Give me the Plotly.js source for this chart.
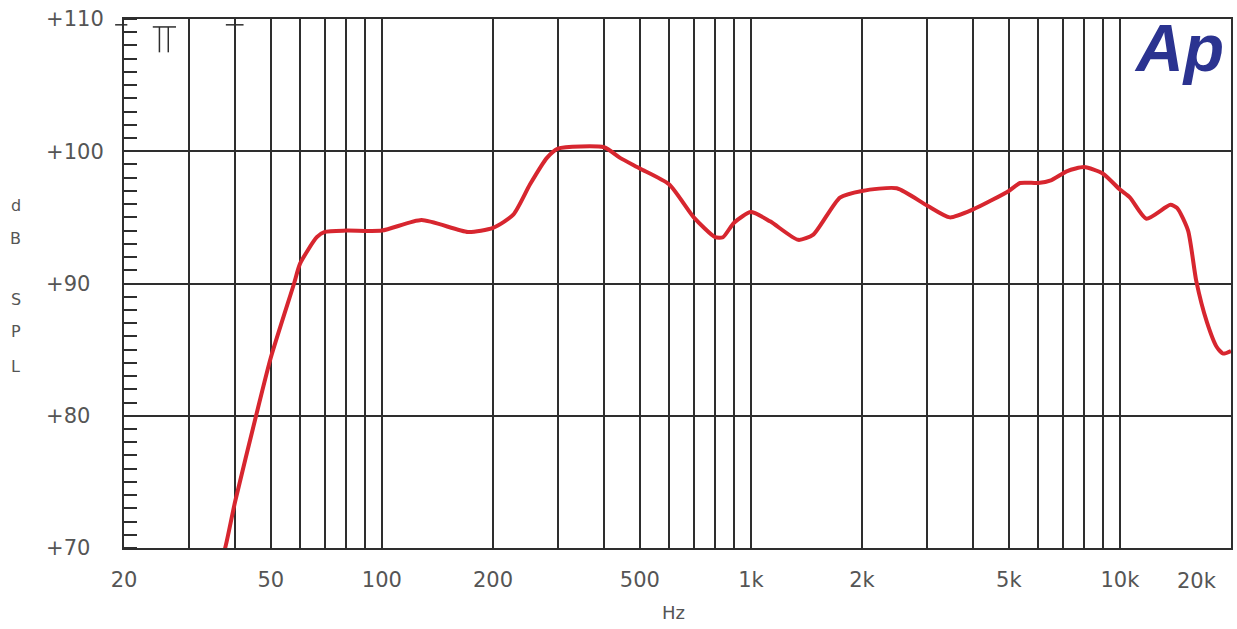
<!DOCTYPE html>
<html>
<head>
<meta charset="utf-8">
<script src="https://cdn.plot.ly/plotly-3.0.1.min.js"></script>
<style>
  body { margin: 0; background: #fff; }
  #plot { width: 1237px; height: 629px; }
</style>
</head>
<body>
<div id="plot"></div>
<script>
// frequency response
var freq = [36, 37.6, 40, 45.6, 50, 57.8, 60, 66.6, 70, 80, 100, 128, 171, 200, 227, 252, 280, 300,
    400, 442, 500, 600, 700, 800, 840, 900, 1000, 1127, 1344, 1476, 1743, 2000, 2484, 3000, 3459,
    4000, 5000, 5361, 6000, 6500, 7200, 8000, 9000, 10000, 10650, 11800, 13700, 14300, 15300,
    16100, 17200, 18300, 19050, 20000];
var spl = [68.5, 70, 73.5, 80, 84.4, 90, 91.5, 93.5, 93.9, 94.0, 94.0, 94.8, 93.9, 94.2, 95.2, 97.5, 99.5, 100.2,
    100.3, 99.5, 98.7, 97.5, 95.0, 93.5, 93.5, 94.6, 95.4, 94.7, 93.3, 93.7, 96.5, 97.0, 97.2, 95.9, 95.0,
    95.6, 97.0, 97.6, 97.6, 97.8, 98.5, 98.8, 98.3, 97.1, 96.5, 94.9, 95.95, 95.7, 94.0,
    90.2, 87.1, 85.2, 84.7, 84.9];

// x grid lines and labels
var xTicks = [20, 30, 40, 50, 60, 70, 80, 90, 100, 200, 300, 400, 500, 600, 700, 800, 900,
    1000, 2000, 3000, 4000, 5000, 6000, 7000, 8000, 9000, 10000, 20000];
var xLabels = ['20', '', '', '50', '', '', '', '', '100', '200', '', '', '500', '', '', '', '',
    '1k', '2k', '', '', '5k', '', '', '', '', '10k', ''];

var yTicks = [70, 80, 90, 100, 110];
var yLabels = ['+70\u2007', '+80\u2007', '+90\u2007', '+100', '+110'];

var splLetters = ['d', 'B', 'S', 'P', 'L'];
var splLetterY = [95.9, 93.4, 88.8, 86.4, 83.7];

var gridCol = '#2e2e2e';
var textCol = '#555555';

var data = [{
    x: freq,
    y: spl,
    type: 'scatter',
    mode: 'lines',
    line: {color: '#d7262f', width: 4, shape: 'spline', smoothing: 0.6},
    hoverinfo: 'x+y'
}];

var annotations = splLetters.map(function (ch, i) {
    return {
        text: ch, xref: 'paper', yref: 'y', x: -0.098, y: splLetterY[i],
        showarrow: false, xanchor: 'center', yanchor: 'middle',
        font: {family: 'DejaVu Sans', size: 16, color: textCol}
    };
});
annotations.push({
    text: 'Hz', xref: 'paper', yref: 'paper', x: 0.496, y: -0.121,
    showarrow: false, xanchor: 'center', yanchor: 'middle',
    font: {family: 'DejaVu Sans', size: 18, color: textCol}
});
annotations.push({
    text: '20k', xref: 'paper', yref: 'paper', x: 0.969, y: -0.036,
    showarrow: false, xanchor: 'center', yanchor: 'top',
    font: {family: 'DejaVu Sans', size: 21, color: textCol}
});
annotations.push({
    text: '<b><i>Ap</i></b>', xref: 'paper', yref: 'paper', x: 0.953, y: 0.945,
    showarrow: false, xanchor: 'center', yanchor: 'middle',
    font: {family: 'Liberation Sans', size: 66, color: '#2b3390'}
});

// small marks at the top left of the plot
function seg(x0, y0, x1, y1) {
    return {type: 'line', xref: 'paper', yref: 'paper', x0: x0, y0: y0, x1: x1, y1: y1,
        line: {color: gridCol, width: 1.5}};
}
var shapes = [
    seg(0.026, 0.985, 0.047, 0.985),
    seg(0.032, 0.985, 0.032, 0.937),
    seg(0.040, 0.985, 0.040, 0.937),
    seg(0.092, 0.989, 0.108, 0.989),
    seg(-0.008, 0.989, 0.003, 0.989)
];

var layout = {
    width: 1237,
    height: 629,
    margin: {l: 124, r: 6, t: 19, b: 81},
    paper_bgcolor: '#ffffff',
    plot_bgcolor: '#ffffff',
    showlegend: false,
    xaxis: {
        type: 'log',
        range: [Math.log10(20), Math.log10(20000)],
        tickmode: 'array',
        tickvals: xTicks,
        ticktext: xLabels,
        ticks: 'outside',
        ticklen: 12,
        tickcolor: 'rgba(0,0,0,0)',
        showgrid: true,
        gridcolor: gridCol,
        gridwidth: 1.6,
        showline: true,
        linecolor: gridCol,
        linewidth: 2,
        mirror: true,
        zeroline: false,
        tickfont: {family: 'DejaVu Sans', size: 21, color: textCol}
    },
    yaxis: {
        range: [70, 110],
        tickmode: 'array',
        tickvals: yTicks,
        ticktext: yLabels,
        ticks: 'outside',
        ticklen: 14,
        tickcolor: 'rgba(0,0,0,0)',
        showgrid: true,
        gridcolor: gridCol,
        gridwidth: 2,
        showline: true,
        linecolor: gridCol,
        linewidth: 2,
        mirror: true,
        zeroline: false,
        tickfont: {family: 'DejaVu Sans', size: 21, color: textCol},
        minor: {dtick: 1, ticks: 'inside', ticklen: 13, tickwidth: 2, tickcolor: gridCol, showgrid: false}
    },
    annotations: annotations,
    shapes: shapes
};

Plotly.newPlot('plot', data, layout, {displayModeBar: false, staticPlot: true});
</script>
</body>
</html>
